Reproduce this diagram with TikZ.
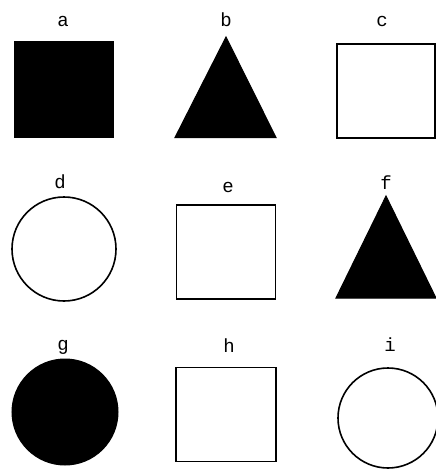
\documentclass[tikz,border=0pt]{standalone}
\usepackage{fontspec}
\setmonofont{Liberation Mono}
\begin{document}
\begin{tikzpicture}[x=1pt,y=-1pt,
  lbl/.style={font=\ttfamily\fontsize{19}{19}\selectfont, inner sep=0pt, anchor=base},
  outl/.style={draw=black, line width=1.6pt},
  solid fill/.style={fill=black, draw=black, line width=1pt}]
\useasboundingbox (0,0) rectangle (436,471);
% labels (baseline positions)
\node[lbl] (la) at (63,26) {a};
\node[lbl] (lb) at (226,26) {b};
\node[lbl] (lc) at (382,26) {c};
\node[lbl] (ld) at (60,188) {d};
\node[lbl] (le) at (228,192) {e};
\node[lbl] (lf) at (386,189) {f};
\node[lbl] (lg) at (63,350) {g};
\node[lbl] (lh) at (229,352) {h};
\node[lbl] (li) at (390,351) {i};
% row 1
\filldraw[solid fill] (14,41) rectangle (113,137);
\filldraw[solid fill] (226,37) -- (276,137.5) -- (175,137.5) -- cycle;
\draw[outl] (337,44) rectangle (435,138);
% row 2
\draw[outl] (64,249) circle (52);
\draw[outl] (176.5,205) rectangle (275.5,299);
\filldraw[solid fill] (386,196) -- (436,298) -- (336,298) -- cycle;
% row 3
\filldraw[solid fill] (65,412) circle (53);
\draw[outl] (176,367.5) rectangle (276,461.5);
\draw[outl] (388,418) circle (50);
\end{tikzpicture}
\end{document}
